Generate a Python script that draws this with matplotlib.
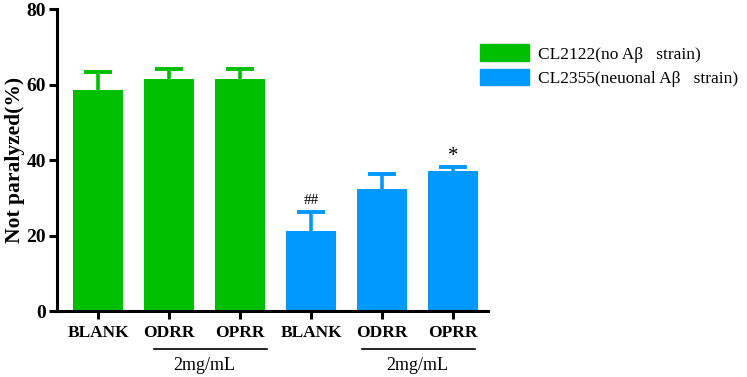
import numpy as np
import matplotlib.pyplot as plt
from matplotlib.patches import Patch

plt.rcParams['font.family'] = ['Liberation Serif', 'DejaVu Serif']

# 数据
labels = ['BLANK', 'ODRR', 'OPRR', 'BLANK', 'ODRR', 'OPRR']
values = [58.5, 61.6, 61.6, 21.2, 32.2, 37.1]
errors = [4.8, 2.5, 2.5, 5.1, 4.1, 1.1]
marks = ['', '', '', '##', '', '*']
series = ['CL2122(no A\u03b2   strain)', 'CL2355(neuonal A\u03b2   strain)']
green = '#00BF00'
blue = '#0099FF'
colors = [green] * 3 + [blue] * 3

fig = plt.figure(figsize=(7.47, 3.77), dpi=100)
ax = fig.add_axes([0.0763, 0.175, 0.577, 0.801])

x = np.arange(len(values))
ax.bar(x, values, width=0.7, color=colors)
# 只画上半误差线
top = np.array(values) + np.array(errors)
ax.vlines(x, values, top, colors=colors, lw=2.6)
ax.hlines(top, x - 0.2, x + 0.2, colors=colors, lw=2.8)
for i in range(len(values)):
    if marks[i]:
        ax.text(x[i], top[i] + (0.2 if marks[i] == '*' else 1.2), marks[i],
                ha='center', va='bottom',
                fontsize=15 if marks[i] == '*' else 11)

ax.set_xlim(-0.58, 5.49)
ax.set_ylim(0, 80)
ax.set_yticks([0, 20, 40, 60, 80])
ax.set_xticks(x)
ax.set_xticklabels(labels, fontweight='bold', fontsize=12.5)
for t in ax.get_yticklabels():
    t.set_fontweight('bold')
    t.set_fontsize(14)
# y轴标题，直接放在图左侧
fig.text(0.02, 0.575, 'Not paralyzed(%)', rotation=90, ha='center',
         va='center', fontweight='bold', fontsize=15.5)

ax.spines['top'].set_visible(False)
ax.spines['right'].set_visible(False)
ax.spines['left'].set_linewidth(2.2)
ax.spines['bottom'].set_linewidth(2.2)
ax.tick_params(width=2.2, length=6, pad=2)
ax.tick_params(axis='x', pad=4)

# 分组标注
for a, b, cx in [(0.78, 2.38, 1.5), (3.72, 5.3, 4.5)]:
    ax.plot([a, b], [-10, -10], color='black', lw=1.2, clip_on=False)
    ax.text(cx, -12.3, '2mg/mL', ha='center', va='top', fontsize=13)

# 图例
handles = [Patch(color=green), Patch(color=blue)]
fig.legend(handles, series, loc='upper left', bbox_to_anchor=(0.622, 0.924),
           frameon=False, fontsize=12.5, handlelength=2.8, handleheight=1.1,
           labelspacing=0.35, handletextpad=0.55)

plt.savefig('out.png', dpi=100)
